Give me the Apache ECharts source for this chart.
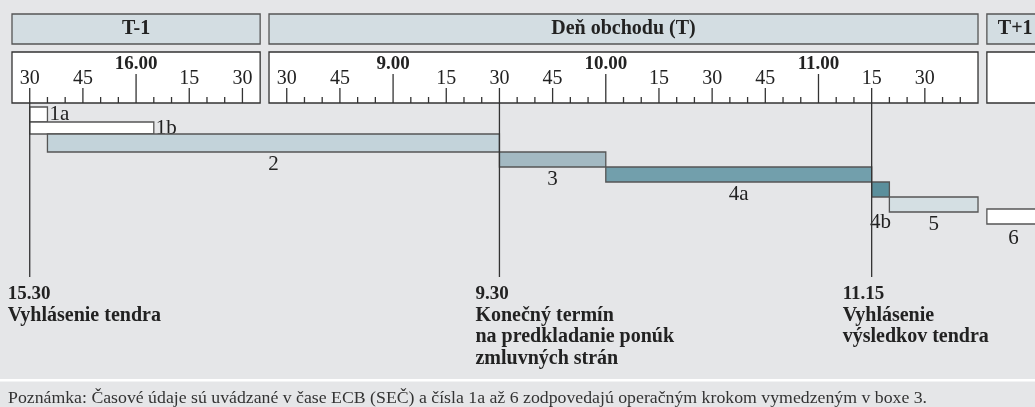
<!DOCTYPE html>
<html>
<head>
<meta charset="utf-8">
<script src="https://cdn.jsdelivr.net/npm/echarts@6/dist/echarts.min.js"></script>
<style>
html, body { margin: 0; padding: 0; background: #e5e6e8; }
#chart { width: 1035px; height: 407px; }
</style>
</head>
<body>
<div id="chart"></div>
<script>
// dni a rozsah casovej osi v kazdom paneli
var dayNames = ['T-1', 'T', 'T+1'];
var dayTitles = ['T-1', 'Deň obchodu (T)', 'T+1'];
var dayFrom = ['15.25', '8.25', '8.25'];
var dayTo = ['16.35', '11.45', '8.41'];

// popisky stupnice
var ticksT1 = ['15.30', '15.45', '16.00', '16.15', '16.30'];
var ticksT = ['8.30', '8.45', '9.00', '9.15', '9.30', '9.45', '10.00', '10.15', '10.30', '10.45', '11.00', '11.15', '11.30'];
var minorStep = 5;

// operacne kroky
var steps = ['1a', '1b', '2', '3', '4a', '4b', '5', '6'];
var stepFromDay = ['T-1', 'T-1', 'T-1', 'T', 'T', 'T', 'T', 'T+1'];
var stepFrom = ['15.30', '15.30', '15.35', '9.30', '10.00', '11.15', '11.20', '8.25'];
var stepToDay = ['T-1', 'T-1', 'T', 'T', 'T', 'T', 'T', 'T+1'];
var stepTo = ['15.35', '16.05', '9.30', '10.00', '11.15', '11.20', '11.45', '8.40'];

// dolezite casy
var milestoneDay = ['T-1', 'T', 'T'];
var milestoneTime = ['15.30', '9.30', '11.15'];
var milestoneText = [
    ['Vyhlásenie tendra'],
    ['Konečný termín', 'na predkladanie ponúk', 'zmluvných strán'],
    ['Vyhlásenie', 'výsledkov tendra']
];

var note = 'Poznámka: Časové údaje sú uvádzané v čase ECB (SEČ) a čísla 1a až 6 zodpovedajú operačným krokom vymedzeným v boxe 3.';

// rozlozenie
var PX = 3.545;            // px na minutu
var X0 = 12;
var dayOffset = [0, 72.5, 275];
var SERIF = '"Liberation Serif", "Times New Roman", serif';
var INK = '#222';
var EDGE = '#555';

var stepColors = {
    '1a': '#ffffff', '1b': '#ffffff', '2': '#c3d3da', '3': '#a3b9c2',
    '4a': '#729fac', '4b': '#5b8f9c', '5': '#d4dfe3', '6': '#ffffff'
};
var rowAdjust = { '1b': [0, -3], '2': [-3, 0], '6': [-3, -3] };
var labelSide = { '1a': 'right', '1b': 'right' };
var labelDy = { '4b': 25, '6': 14 };
var milestoneDx = [-22, -24, -29];

function toMin(t) {
    var p = t.split('.');
    return +p[0] * 60 + +p[1];
}
function pos(day, t) {
    var d = dayNames.indexOf(day);
    return dayOffset[d] + toMin(t) - toMin(dayFrom[d]);
}

var grids = [], xAxes = [], yAxes = [], series = [], graphics = [];

// hlavicky dni
dayNames.forEach(function (d, i) {
    var left = X0 + dayOffset[i] * PX;
    var width = (toMin(dayTo[i]) - toMin(dayFrom[i])) * PX;
    grids.push({
        left: left, top: 14, width: width, height: 30, show: true, outerBoundsMode: 'none',
        backgroundColor: '#d3dde2', borderColor: EDGE, borderWidth: 1.3
    });
    xAxes.push({ type: 'value', gridIndex: grids.length - 1, min: 0, max: 1, show: false });
    yAxes.push({ type: 'value', gridIndex: grids.length - 1, min: 0, max: 1, show: false });
    graphics.push({
        type: 'text', x: left + width / 2, y: 29,
        style: {
            text: dayTitles[i], fontFamily: SERIF, fontWeight: 'bold', fontSize: 20,
            fill: INK, align: 'center', verticalAlign: 'middle'
        }
    });
});

// stupnice
var tickLabels = [ticksT1, ticksT, []];
dayNames.forEach(function (d, i) {
    var left = X0 + dayOffset[i] * PX;
    var width = (toMin(dayTo[i]) - toMin(dayFrom[i])) * PX;
    grids.push({
        left: left, top: 52, width: width, height: 51, show: true, outerBoundsMode: 'none',
        backgroundColor: '#ffffff', borderColor: '#333', borderWidth: 1.3
    });
    var gi = grids.length - 1;
    xAxes.push({ type: 'value', gridIndex: gi, min: toMin(dayFrom[i]), max: toMin(dayTo[i]), show: false });
    yAxes.push({ type: 'value', gridIndex: gi, min: 0, max: 1, show: false });

    var labels = tickLabels[i];
    if (!labels.length) return;
    var ticks = [];
    for (var m = toMin(dayFrom[i]) + minorStep; m < toMin(dayTo[i]); m += minorStep) {
        var lab = '';
        labels.forEach(function (l) { if (toMin(l) === m) lab = l; });
        ticks.push({ m: m, label: lab });
    }
    series.push({
        type: 'custom', xAxisIndex: gi, yAxisIndex: gi, silent: true,
        data: ticks.map(function (t) { return [t.m, 0]; }),
        renderItem: function (params, api) {
            var t = ticks[params.dataIndex];
            var p = api.coord([api.value(0), 0]);
            var hour = t.m % 60 === 0;
            var len = hour ? 29 : (t.m % 15 === 0 ? 15 : 6);
            var children = [{
                type: 'line',
                shape: { x1: p[0], y1: p[1], x2: p[0], y2: p[1] - len },
                style: { stroke: '#333', lineWidth: 1.3 }
            }];
            if (t.label) {
                children.push({
                    type: 'text',
                    style: {
                        x: p[0], y: p[1] - (hour ? 39 : 24),
                        text: hour ? t.label : t.label.split('.')[1],
                        fontFamily: SERIF, fontSize: hour ? 19 : 20, fontWeight: hour ? 'bold' : 'normal',
                        fill: INK, align: 'center', verticalAlign: 'middle'
                    }
                });
            }
            return { type: 'group', children: children };
        }
    });
});

// pruhy krokov
grids.push({ left: X0, top: 107, width: 1035 - X0, height: 120, outerBoundsMode: 'none' });
var BG = grids.length - 1;
xAxes.push({ type: 'value', gridIndex: BG, min: 0, max: (1035 - X0) / PX, show: false });
yAxes.push({ type: 'category', gridIndex: BG, data: steps, inverse: true, show: false });

series.push({
    type: 'custom', xAxisIndex: BG, yAxisIndex: BG, silent: true, clip: false,
    data: steps.map(function (s, i) {
        return [pos(stepFromDay[i], stepFrom[i]), pos(stepToDay[i], stepTo[i]), i];
    }),
    renderItem: function (params, api) {
        var i = api.value(2);
        var s = steps[i];
        var a = api.coord([api.value(0), i]);
        var b = api.coord([api.value(1), i]);
        var h = api.size([0, 1])[1];
        var adj = rowAdjust[s] || [0, 0];
        var top = a[1] - h / 2 + adj[0];
        var bottom = a[1] + h / 2 + adj[1];
        var label;
        if (labelSide[s] === 'right') {
            label = { x: b[0] + 2, y: (top + bottom) / 2, align: 'left' };
        } else {
            label = { x: (a[0] + b[0]) / 2, y: bottom + (labelDy[s] || 12), align: 'center' };
        }
        return {
            type: 'group',
            children: [{
                type: 'rect',
                shape: { x: a[0], y: top, width: b[0] - a[0], height: bottom - top },
                style: { fill: stepColors[s], stroke: EDGE, lineWidth: 1.3 }
            }, {
                type: 'text',
                style: {
                    x: label.x, y: label.y, text: s, fontFamily: SERIF, fontSize: 21,
                    fill: INK, align: label.align, verticalAlign: 'middle'
                }
            }]
        };
    }
});

// zvisle ciary a popisy terminov
series.push({
    type: 'custom', xAxisIndex: BG, yAxisIndex: BG, silent: true, clip: false,
    data: milestoneTime.map(function (t, i) { return [pos(milestoneDay[i], t), 0, i]; }),
    renderItem: function (params, api) {
        var i = api.value(2);
        var x = api.coord([api.value(0), 0])[0];
        var children = [{
            type: 'line',
            shape: { x1: x, y1: 103, x2: x, y2: 277 },
            style: { stroke: '#333', lineWidth: 1.3 }
        }, {
            type: 'text',
            style: {
                x: x + milestoneDx[i], y: 294, text: milestoneTime[i], fontFamily: SERIF,
                fontWeight: 'bold', fontSize: 19, fill: INK, align: 'left', verticalAlign: 'middle'
            }
        }];
        milestoneText[i].forEach(function (line, k) {
            children.push({
                type: 'text',
                style: {
                    x: x + milestoneDx[i], y: 315.5 + k * 21.5, text: line, fontFamily: SERIF,
                    fontWeight: 'bold', fontSize: 20, fill: INK, align: 'left', verticalAlign: 'middle'
                }
            });
        });
        return { type: 'group', children: children };
    }
});

// poznamka
graphics.push({ type: 'rect', shape: { x: 0, y: 379, width: 1035, height: 2.5 }, style: { fill: '#ffffff' } });
graphics.push({
    type: 'text', x: 8, y: 399, scaleX: 1.045,
    style: { text: note, fontFamily: SERIF, fontSize: 17, fill: '#333', align: 'left', verticalAlign: 'middle' }
});

var myChart = echarts.init(document.getElementById('chart'));
myChart.setOption({
    backgroundColor: '#e5e6e8',
    animation: false,
    grid: grids,
    xAxis: xAxes,
    yAxis: yAxes,
    series: series,
    graphic: graphics
});
</script>
</body>
</html>
